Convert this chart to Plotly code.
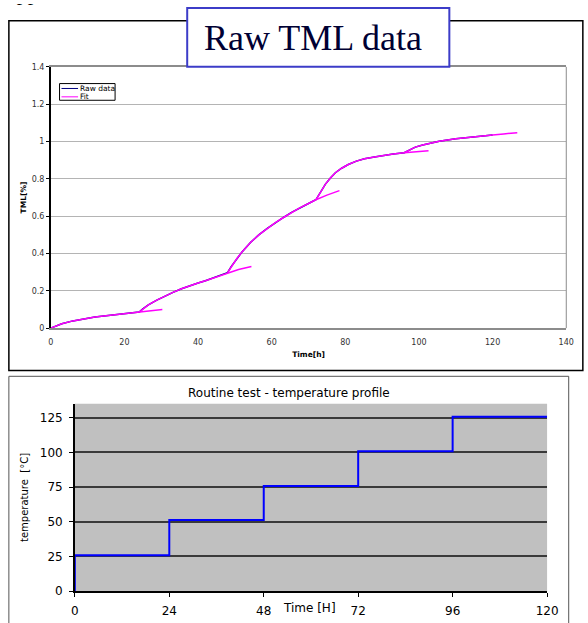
import plotly.graph_objects as go

# ---------------- data ----------------
# Raw TML data (time [h], TML [%])
raw_time = [0, 1, 3, 6, 9, 12, 15, 18, 21, 24,
            25, 26.5, 28.8, 31, 33.2, 35.5, 37.6, 40, 42, 45, 48,
            49, 50.5, 52, 54.3, 56.5, 58.8, 61, 63.2, 65.4, 67.6, 70, 72,
            73, 74.6, 76, 77.3, 79, 80.8, 83, 85.2, 87.9, 90, 93, 96,
            97.5, 99, 101, 103, 105.5, 110, 114.3, 120]
raw_tml = [0, 0.009, 0.024, 0.039, 0.051, 0.060, 0.067, 0.074, 0.080, 0.086,
           0.103, 0.125, 0.150, 0.172, 0.192, 0.211, 0.227, 0.242, 0.254, 0.275, 0.297,
           0.330, 0.372, 0.410, 0.460, 0.500, 0.535, 0.566, 0.593, 0.620, 0.645, 0.668, 0.688,
           0.722, 0.772, 0.806, 0.833, 0.857, 0.877, 0.895, 0.908, 0.917, 0.925, 0.933, 0.940,
           0.957, 0.970, 0.981, 0.992, 1.002, 1.015, 1.025, 1.035]

# Fit segments (each extended ~6 h past its step)
fit1_time = [0, 1, 3, 6, 9, 12, 15, 18, 21, 24, 27, 30.3]
fit1_tml = [0, 0.009, 0.024, 0.039, 0.051, 0.060, 0.067, 0.074, 0.080, 0.086, 0.093, 0.100]
fit2_time = [24, 25, 26.5, 28.8, 31, 33.2, 35.5, 37.6, 40, 42, 45, 48, 51, 54.5]
fit2_tml = [0.086, 0.103, 0.125, 0.150, 0.172, 0.192, 0.211, 0.227, 0.242, 0.254, 0.275, 0.297, 0.314, 0.330]
fit3_time = [48, 49, 50.5, 52, 54.3, 56.5, 58.8, 61, 63.2, 65.4, 67.6, 70, 72, 75, 78.4]
fit3_tml = [0.297, 0.330, 0.372, 0.410, 0.460, 0.500, 0.535, 0.566, 0.593, 0.620, 0.645, 0.668, 0.688, 0.713, 0.737]
fit4_time = [72, 73, 74.6, 76, 77.3, 79, 80.8, 83, 85.2, 87.9, 90, 93, 96, 99, 102.6]
fit4_tml = [0.688, 0.722, 0.772, 0.806, 0.833, 0.857, 0.877, 0.895, 0.908, 0.917, 0.925, 0.933, 0.940, 0.946, 0.951]
fit5_time = [96, 97.5, 99, 101, 103, 105.5, 110, 114.3, 120, 123, 126.7]
fit5_tml = [0.940, 0.957, 0.970, 0.981, 0.992, 1.002, 1.015, 1.025, 1.035, 1.041, 1.047]

# Temperature profile (step function)
temp_time = [0, 0, 24, 48, 72, 96, 120]
temp_c = [0, 25.8, 51.2, 75.8, 100.8, 125.7, 125.7]

top_x_ticks = [0, 20, 40, 60, 80, 100, 120, 140]
top_y_ticks = [0, 0.2, 0.4, 0.6, 0.8, 1.0, 1.2, 1.4]
top_y_labels = ["0", "0.2", "0.4", "0.6", "0.8", "1", "1.2", "1.4"]
bot_x_ticks = [0, 24, 48, 72, 96, 120]
bot_y_ticks = [0, 25, 50, 75, 100, 125]

# text of the page above the chart, cut off by the top edge
page_text = ["application [4]"]

# ---------------- figure ----------------
W, H = 588, 623


def px(x):
    return x / W


def py(y):
    return 1 - y / H


RAW_COLOR = "#000080"
FIT_COLOR = "#ff00ff"
FONT = "DejaVu Sans"

fig = go.Figure()

fig.add_trace(go.Scatter(x=raw_time, y=raw_tml, mode="lines", name="Raw data",
                         line=dict(color=RAW_COLOR, width=1.5), xaxis="x", yaxis="y",
                         showlegend=False))
for ft, fv in [(fit1_time, fit1_tml), (fit2_time, fit2_tml), (fit3_time, fit3_tml),
               (fit4_time, fit4_tml), (fit5_time, fit5_tml)]:
    fig.add_trace(go.Scatter(x=ft, y=fv, mode="lines", name="Fit",
                             line=dict(color=FIT_COLOR, width=1.5), xaxis="x", yaxis="y",
                             showlegend=False))

fig.add_trace(go.Scatter(x=temp_time, y=temp_c, mode="lines", line_shape="hv",
                         line=dict(color="#0000ff", width=2), xaxis="x2", yaxis="y2",
                         showlegend=False))

# clipped page text, drawn in a hidden strip subplot at the very top so it gets clipped
fig.add_trace(go.Scatter(x=[3], y=[26], mode="text", text=page_text,
                         textposition="middle right", cliponaxis=True,
                         textfont=dict(family="Liberation Serif", size=22, color="#000000"),
                         xaxis="x3", yaxis="y3", showlegend=False, hoverinfo="skip"))

shapes = [
    # top chart frame
    dict(type="rect", xref="paper", yref="paper", x0=px(5), x1=px(594), y0=py(17), y1=py(373),
         line=dict(color="#000000", width=1.5), layer="above"),
    # bottom chart frame
    dict(type="rect", xref="paper", yref="paper", x0=px(5), x1=px(579.5), y0=py(379), y1=py(650),
         line=dict(color="#555555", width=1), layer="above"),
    # right border of top plot area
    dict(type="line", xref="paper", yref="paper", x0=px(577), x1=px(577), y0=py(330), y1=py(64),
         line=dict(color="#8c8c8c", width=1), layer="above"),
    # gray plot background of bottom chart
    dict(type="rect", xref="x2 domain", yref="y2 domain", x0=0, x1=1, y0=0, y1=1,
         fillcolor="#c0c0c0", line=dict(width=0), layer="below"),
    # title box
    dict(type="rect", xref="paper", yref="paper", x0=px(188), x1=px(457), y0=py(64), y1=py(4),
         fillcolor="#ffffff", line=dict(color="#3c3cc8", width=2), layer="above"),
    # legend box
    dict(type="rect", xref="paper", yref="paper", x0=px(57), x1=px(114), y0=py(98), y1=py(81),
         fillcolor="#ffffff", line=dict(color="#000000", width=1), layer="above"),
    dict(type="line", xref="paper", yref="paper", x0=px(59), x1=px(76), y0=py(86), y1=py(86),
         line=dict(color=RAW_COLOR, width=1), layer="above"),
    dict(type="line", xref="paper", yref="paper", x0=px(59), x1=px(76), y0=py(94.5), y1=py(94.5),
         line=dict(color=FIT_COLOR, width=1), layer="above"),
]

annotations = [
    dict(text="Raw TML data", xref="paper", yref="paper", x=px(317), y=py(35),
         xanchor="center", yanchor="middle", showarrow=False,
         font=dict(family="Liberation Serif", size=36, color="#000033")),
    dict(text="Raw data", xref="paper", yref="paper", x=px(77), y=py(86),
         xanchor="left", yanchor="middle", showarrow=False, borderpad=0,
         font=dict(family=FONT, size=7.5, color="#000000")),
    dict(text="Fit", xref="paper", yref="paper", x=px(77), y=py(94),
         xanchor="left", yanchor="middle", showarrow=False, borderpad=0,
         font=dict(family=FONT, size=7.5, color="#000000")),
    dict(text="Routine test - temperature profile", xref="paper", yref="paper",
         x=px(292), y=py(396), xanchor="center", yanchor="middle", showarrow=False,
         font=dict(family=FONT, size=12, color="#000000")),
    dict(text="Time [H]", xref="paper", yref="paper",
         x=px(313.5), y=py(615), xanchor="center", yanchor="middle", showarrow=False,
         font=dict(family=FONT, size=12, color="#000000")),
]

fig.update_layout(
    width=W, height=H, autosize=False,
    margin=dict(l=0, r=0, t=0, b=0, pad=0),
    paper_bgcolor="#ffffff", plot_bgcolor="rgba(0,0,0,0)",
    showlegend=False,
    shapes=shapes, annotations=annotations,
    xaxis=dict(domain=[px(48), px(577)], range=[0, 140.01], tickvals=top_x_ticks,
               showgrid=False, zeroline=False, showline=True, linecolor="#8c8c8c",
               linewidth=1.5, mirror=True, ticks="outside", ticklen=5,
               tickcolor="rgba(0,0,0,0)",
               tickfont=dict(family=FONT, size=8, color="#333333"),
               title=dict(text="Time[h]", standoff=6,
                          font=dict(family=FONT, size=7.5, color="#000000", weight="bold")),
               anchor="y"),
    yaxis=dict(domain=[py(330), py(64)], range=[0, 1.4001], tickvals=top_y_ticks,
               ticktext=top_y_labels,
               showgrid=True, gridcolor="#b4b4b4", gridwidth=1, zeroline=False,
               showline=True, linecolor="#000000", linewidth=1.5,
               ticks="outside", ticklen=3, tickcolor="#000000", tickwidth=1,
               tickfont=dict(family=FONT, size=8, color="#333333"),
               title=dict(text="TML[%]", standoff=4,
                          font=dict(family=FONT, size=7.5, color="#000000", weight="bold")),
               anchor="x"),
    xaxis2=dict(domain=[px(72.7), px(557.3)], range=[0, 120], tickvals=bot_x_ticks,
                showgrid=False, zeroline=False, showline=True, linecolor="#000000",
                linewidth=1.5, ticks="outside", ticklen=4, tickcolor="#000000",
                ticklabelstandoff=4,
                tickfont=dict(family=FONT, size=12, color="#000000"), anchor="y2"),
    yaxis2=dict(domain=[py(597.7), py(407)], range=[0, 135], tickvals=bot_y_ticks,
                showgrid=True, gridcolor="#3a3a3a", gridwidth=1.5, zeroline=False,
                showline=True, linecolor="#000000", linewidth=1.5,
                ticks="outside", ticklen=4, tickcolor="#000000",
                ticklabelstandoff=4,
                tickfont=dict(family=FONT, size=12, color="#000000"),
                title=dict(text="temperature\u00a0 [°C]", standoff=9,
                           font=dict(family=FONT, size=10, color="#000000")),
                anchor="x2"),
    xaxis3=dict(domain=[0, 1], range=[0, W], visible=False, anchor="y3"),
    yaxis3=dict(domain=[py(16), 1], range=[0, 16], visible=False, anchor="x3"),
)

fig.write_html("out.html")
